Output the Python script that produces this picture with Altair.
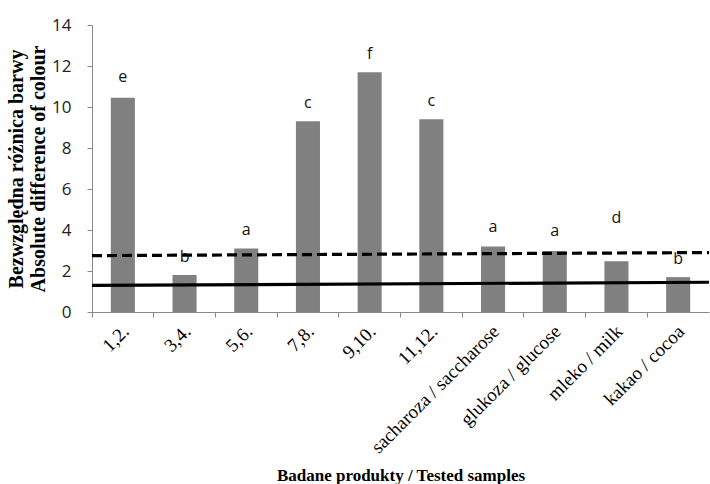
import altair as alt
import pandas as pd

categories = ["1,2.", "3,4.", "5,6.", "7,8.", "9,10.", "11,12.",
              "sacharoza / saccharose", "glukoza / glucose", "mleko / milk", "kakao / cocoa"]
values = [10.45, 1.8, 3.1, 9.3, 11.7, 9.4, 3.2, 2.97, 2.48, 1.7]
letters = ["e", "b", "a", "c", "f", "c", "a", "a", "d", "b"]
letter_y = [11.45, 2.7, 4.0, 10.2, 12.6, 10.3, 4.15, 3.97, 4.6, 2.6]

line_names = ["dashed", "solid"]
line_start = [2.75, 1.3]
line_end = [2.9, 1.45]

df = pd.DataFrame({"cat": categories, "value": values, "letter": letters, "ly": letter_y})
lines = pd.DataFrame({"name": line_names, "y0": line_start, "y1": line_end})

W, H = 617, 287

xscale = alt.Scale(domain=categories, paddingInner=0, paddingOuter=0)
yscale = alt.Scale(domain=[0, 14])

x_enc = alt.X("cat:N", sort=None, scale=xscale,
              axis=alt.Axis(title="Badane produkty / Tested samples",
                            titleFont="Liberation Serif", titleFontSize=17, titleFontWeight="bold",
                            titleColor="#000000", titleY=163, titleBaseline="middle",
                            labelFont="Liberation Serif", labelFontSize=19, labelColor="#000000",
                            labelAngle=-45, labelAlign="right", labelBaseline="middle",
                            labelPadding=11, labelOffset=3, bandPosition=0,
                            domainColor="#888888", tickColor="#888888", tickSize=5,
                            labelLimit=300))

y_axis = alt.Axis(title=["Bezwzględna różnica barwy", "Absolute difference of colour"],
                  titleFont="Liberation Serif", titleFontSize=20, titleFontWeight="bold",
                  titleColor="#000000", titlePadding=3, titleLineHeight=22,
                  labelFont="Open Sans", labelFontSize=17, labelColor="#222222",
                  values=[0, 2, 4, 6, 8, 10, 12, 14], grid=False,
                  domainColor="#888888", tickColor="#888888", tickSize=5, labelPadding=16)

bars = alt.Chart(df).mark_bar(color="#808080", width=alt.RelativeBandSize(0.39)).encode(
    x=x_enc,
    y=alt.Y("value:Q", scale=yscale, axis=y_axis),
)

text = alt.Chart(df).mark_text(font="Open Sans", fontSize=16, color="#111111").encode(
    x=alt.X("cat:N", sort=None, scale=xscale),
    y=alt.Y("ly:Q", scale=yscale),
    text="letter:N",
)

dashed = alt.Chart(lines[lines["name"] == "dashed"]).mark_rule(
    color="#000000", strokeWidth=3.2, strokeDash=[10, 5]).encode(
    x=alt.value(0), x2=alt.value("width"),
    y=alt.Y("y0:Q", scale=yscale), y2="y1:Q",
)
solid = alt.Chart(lines[lines["name"] == "solid"]).mark_rule(
    color="#000000", strokeWidth=3.2).encode(
    x=alt.value(0), x2=alt.value("width"),
    y=alt.Y("y0:Q", scale=yscale), y2="y1:Q",
)

chart = alt.layer(bars, dashed, solid, text).properties(
    width=W, height=H,
    autosize=alt.AutoSizeParams(type="none"),
    padding={"left": 92, "top": 25, "right": 1, "bottom": 172},
    background="#ffffff",
).configure_view(stroke=None)

chart.save("out.html", embed_options={"renderer": "svg", "actions": False})
